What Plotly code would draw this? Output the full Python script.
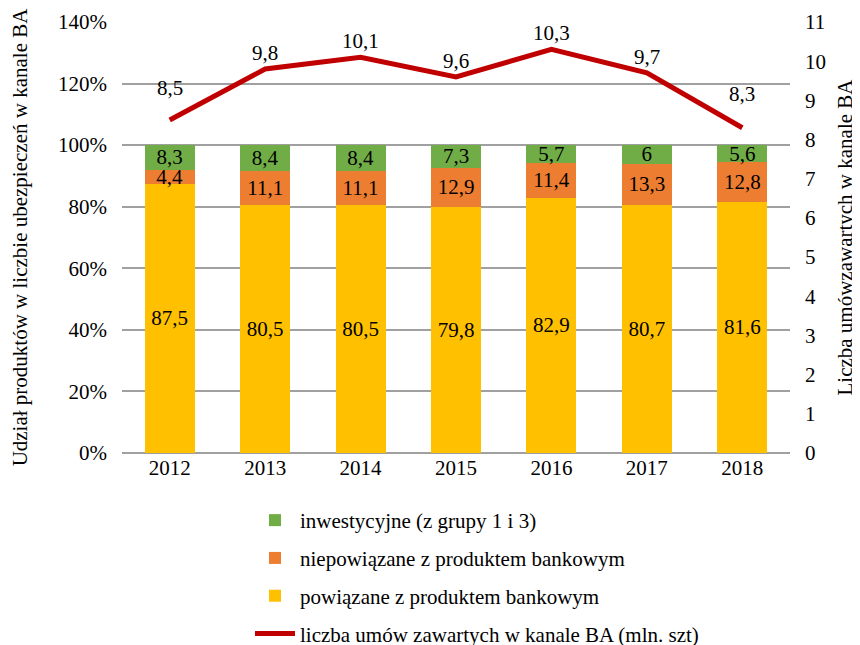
import plotly.graph_objects as go

years = ["2012", "2013", "2014", "2015", "2016", "2017", "2018"]
powiazane = [87.5, 80.5, 80.5, 79.8, 82.9, 80.7, 81.6]
niepowiazane = [4.4, 11.1, 11.1, 12.9, 11.4, 13.3, 12.8]
inwestycyjne = [8.3, 8.4, 8.4, 7.3, 5.7, 6.0, 5.6]
umowy = [8.5, 9.8, 10.1, 9.6, 10.3, 9.7, 8.3]
label_shift = [32, 16, 16, 16, 16, 16, 34]

FONT = "Liberation Serif, Times New Roman, serif"
FS = 21


def fmt(v):
    s = ("%.1f" % v).replace(".", ",")
    if s.endswith(",0"):
        s = s[:-2]
    return s


fig = go.Figure()
bar_specs = [
    ("powiązane z produktem bankowym", powiazane, "#FFC000", 3),
    ("niepowiązane z produktem bankowym", niepowiazane, "#ED7D31", 2),
    ("inwestycyjne (z grupy 1 i 3)", inwestycyjne, "#70AD47", 1),
]
for name, vals, color, rank in bar_specs:
    fig.add_trace(go.Bar(
        x=years, y=vals, name=name, marker=dict(color=color, line=dict(width=0)),
        text=[fmt(v) for v in vals], textposition="inside", textangle=0,
        insidetextanchor="middle", constraintext="none",
        textfont=dict(family=FONT, size=FS, color="black"),
        legendrank=rank, legendgroup=name, yaxis="y",
    ))

fig.add_trace(go.Scatter(
    x=years, y=umowy, name="liczba umów zawartych w kanale BA (mln. szt)",
    mode="lines", line=dict(color="#C00000", width=5),
    yaxis="y2", legendrank=4, legendgroup="line",
))

for i, (v, s) in enumerate(zip(umowy, label_shift)):
    fig.add_annotation(x=i, y=v, xref="x", yref="y2", text=fmt(v), showarrow=False,
                       yshift=s, font=dict(family=FONT, size=FS, color="black"))

fig.update_layout(
    width=860, height=645,
    paper_bgcolor="white", plot_bgcolor="white",
    barmode="stack", bargap=0.476,
    margin=dict(l=114, r=78, t=14, b=200, autoexpand=False),
    font=dict(family=FONT, size=FS, color="black"),
    xaxis=dict(type="category", range=[-0.5, len(years) - 0.5], autorange=False,
               showgrid=False, ticks="", showline=False,
               tickfont=dict(family=FONT, size=FS)),
    yaxis=dict(range=[0, 140], dtick=20, ticksuffix="%",
               showgrid=True, gridcolor="#A0A0A0", gridwidth=1.5,
               zeroline=True, zerolinecolor="#A0A0A0", zerolinewidth=1.5,
               ticklabelstandoff=14,
               tickfont=dict(family=FONT, size=FS),
               title=dict(text="Udział produktów w liczbie ubezpieczeń w kanale BA",
                          font=dict(family=FONT, size=FS), standoff=27)),
    yaxis2=dict(range=[0, 11], dtick=1, overlaying="y", side="right",
                showgrid=False, zeroline=False, ticklabelstandoff=14,
                tickfont=dict(family=FONT, size=FS),
                title=dict(text="Liczba umówzawartych w kanale BA",
                           font=dict(family=FONT, size=FS), standoff=12)),
    legend=dict(orientation="v", x=0.1916, xanchor="left", y=-0.109, yanchor="top",
                traceorder="grouped", tracegroupgap=7.5,
                font=dict(family=FONT, size=FS), itemwidth=40),
    showlegend=True,
)

fig.write_html("out.html")
